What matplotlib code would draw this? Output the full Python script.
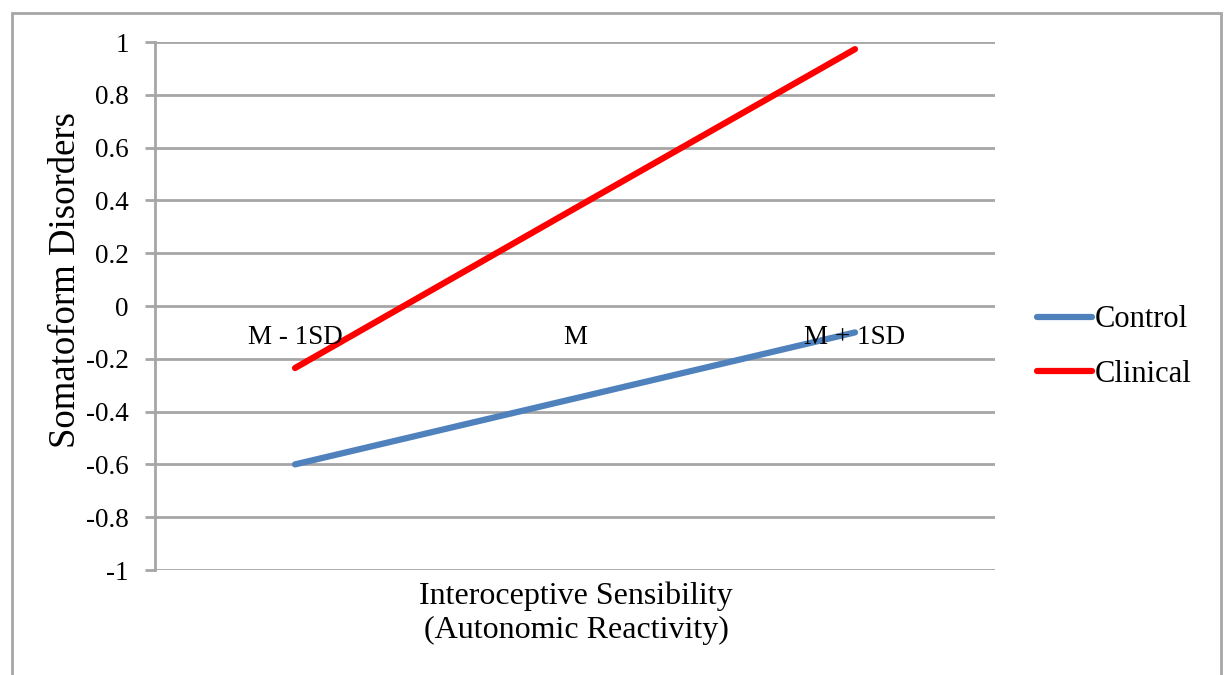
import matplotlib
matplotlib.use("Agg")
import matplotlib.pyplot as plt
from matplotlib.patches import Rectangle

categories = ["M - 1SD", "M", "M + 1SD"]
control = [-0.6, -0.35, -0.1]
clinical = [-0.235, 0.37, 0.973]
yticks = [1, 0.8, 0.6, 0.4, 0.2, 0, -0.2, -0.4, -0.6, -0.8, -1]

plt.rcParams['font.family'] = ['Liberation Serif', 'DejaVu Serif']

W, H = 1225, 675
fig = plt.figure(figsize=(W/100, H/100), dpi=100)
ax = fig.add_axes([155/W, 1-570/H, (995-155)/W, (570-42)/H])

x = [0.5, 1.5, 2.5]
ax.plot(x, control, color='#4F81BD', lw=4.5, solid_capstyle='round', label='Control', zorder=3)
ax.plot(x, clinical, color='#FF0000', lw=4.5, solid_capstyle='round', label='Clinical', zorder=3)

ax.set_xlim(0, 3)
ax.set_ylim(-1, 1)
ax.set_yticks(yticks)
ax.set_yticklabels([f"{v:g}" for v in yticks], fontsize=19.5)
ax.yaxis.grid(True, color='#A6A6A6', lw=2)
ax.set_axisbelow(True)
ax.tick_params(axis='y', length=7, width=2, color='#A6A6A6', pad=12)
ax.set_xticks([])
for s in ['top', 'right', 'bottom']:
    ax.spines[s].set_visible(False)
ax.spines['left'].set_color('#A6A6A6')
ax.spines['left'].set_linewidth(2)

for xi, c in zip(x, categories):
    ax.text(xi, -0.12, c, ha='center', va='center', fontsize=19.5)

fig.text(66/W, 1-280/H, 'Somatoform Disorders', rotation=90, ha='center', va='center', fontsize=26.5)
fig.text(576/W, 1-613/H, 'Interoceptive Sensibility\n(Autonomic Reactivity)', ha='center', va='center',
         fontsize=23, linespacing=1.2)

leg = ax.legend(loc='center left', bbox_to_anchor=(1.035, 0.422), frameon=False, fontsize=22,
                handlelength=1.8, handletextpad=0.1, labelspacing=0.85, borderaxespad=0)

fig.patches.append(Rectangle((12/W, -0.05), (1221-12)/W, 1-13/H+0.05, transform=fig.transFigure,
                             fill=False, edgecolor='#A6A6A6', lw=2))

fig.savefig('out.png', dpi=100)
